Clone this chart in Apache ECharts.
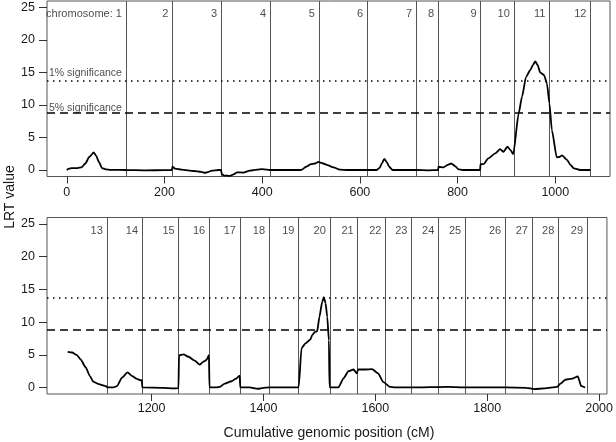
<!DOCTYPE html>
<html>
<head>
<meta charset="utf-8">
<script src="https://cdn.jsdelivr.net/npm/echarts@6/dist/echarts.min.js"></script>
<style>
html,body{margin:0;padding:0;background:#fff;}
#chart{width:616px;height:442px;}
</style>
</head>
<body>
<div id="chart"></div>
<script>
// ---- data ----
const xTicksTop = [0, 200, 400, 600, 800, 1000];
const xTicksBottom = [1200, 1400, 1600, 1800, 2000];
const yTicks = [0, 5, 10, 15, 20, 25];
const sigLevels = [13.8, 8.8];               // 1% and 5% significance thresholds
const sigNames = ['1% significance', '5% significance'];

const chromEndsTop = [121, 216, 316, 416, 516, 615, 715, 760, 847, 915, 988, 1072];
const chromNamesTop = ['chromosome: 1', '2', '3', '4', '5', '6', '7', '8', '9', '10', '11', '12'];
const chromEndsBottom = [1120, 1183, 1248.5, 1303, 1358, 1410, 1462.5, 1518.5, 1568.5, 1618, 1664.5, 1712.5, 1760.5, 1832, 1880, 1927, 1978.5];
const chromNamesBottom = ['13', '14', '15', '16', '17', '18', '19', '20', '21', '22', '23', '24', '25', '26', '27', '28', '29'];

const lrtTop = [
  [0,0],[5,0.2],[10,0.3],[22,0.3],[30,0.4],[38,1.0],[46,2.0],[55,2.7],[60,2.2],[66,1.2],[72,0.3],[80,0.1],[90,0.03],[121,0],
  [160,-0.05],[200,-0.02],[215,0],
  [216.5,0.5],[222,0.2],[235,0.05],[260,-0.15],[275,-0.3],[283,-0.45],[290,-0.3],[297,-0.1],[311,0],[316,0],
  [317,-0.6],[322,-0.85],[334,-0.9],[340,-0.7],[349,-0.35],[361,-0.4],[375,-0.1],[390,0.05],[399,0.15],[410,0.05],[416,0],
  [480,0],[490,0.5],[500,0.9],[508,1.0],[515,1.25],
  [516,1.2],[525,1.0],[532,0.8],[546,0.4],[559,0.05],[575,0],[614,0],
  [634,0],[640,0.3],[645,1.0],[650,1.7],[655,1.2],[660,0.5],[667,0],[715,0],
  [740,-0.05],[760,0],
  [761,0.5],[771,0.4],[780,0.8],[787,1.0],[795,0.6],[802,0.1],[810,0],[846,0],
  [847,0.9],[853,0.9],[863,1.8],[877,2.55],[887,3.2],[894,2.8],[902,3.6],[908,3.1],[914,2.45],
  [925,8.7],[932,11.3],[940,14.3],[949,15.4],[954,16.15],[959,16.7],[964,16.15],[969,15.0],[977,14.6],[983,13.3],[988,10.25],
  [993,6.15],[1003,1.95],[1008,2.0],[1014,2.25],[1024,1.55],[1031,0.8],[1038,0.25],[1051,0],[1072,0]
];

const lrtBottom = [
  [1050,5.45],[1058,5.35],[1066,5.0],[1073,4.3],[1082,3.1],[1090,1.7],[1096,0.85],[1106,0.5],[1114,0.3],[1119.5,0.15],
  [1120.5,0],[1132,0],[1138,0.2],[1147,1.5],[1157,2.3],[1165,1.75],[1174,1.3],[1180,1.1],[1182.5,1.1],
  [1183.5,0],[1220,-0.05],[1239,-0.15],[1248,-0.1],
  [1249,4.9],[1257,5.05],[1266,4.7],[1277,4.1],[1286,3.5],[1292,3.9],[1298,4.2],[1302.5,4.95],
  [1303.5,0],[1315,0],[1322,0.1],[1331,0.6],[1343,0.95],[1350,1.3],[1357.5,1.8],
  [1358.5,0],[1375,0],[1390,-0.2],[1400,-0.05],[1410,0],[1462,0],
  [1463,0.1],[1468,6.0],[1475,6.75],[1484,7.35],[1487,8.0],[1492,8.5],[1496,8.6],[1500,10.8],[1505,13.1],[1508,13.8],[1511,12.9],[1514,10.8],[1517,7.2],[1518,0.1],
  [1519,0],[1534,0],[1543,1.4],[1552,2.5],[1561,2.75],[1567,2.15],
  [1569,2.75],[1582,2.75],[1594,2.8],[1605,2.15],[1614,0.85],[1626,0.1],[1635,0],
  [1665,0],[1730,0.1],[1760,0],[1832,0],[1870,-0.05],[1884,-0.25],[1902,-0.15],[1925,0.1],
  [1931,0.6],[1940,1.2],[1952,1.35],[1962,1.7],[1968,0.2],[1975,0]
];

// ---- chart ----
const FONT = 'Liberation Sans, Arial, Helvetica, sans-serif';
const TXT = '#1a1a1a';
const chart = echarts.init(document.getElementById('chart'), null, {renderer: 'canvas'});
const plain = v => String(v);

function xAxisCfg(grid, min, max, ticks, margin) {
  return {
    gridIndex: grid, type: 'value', min: min, max: max,
    axisLine: {show: false, onZero: false}, splitLine: {show: false},
    axisTick: {show: true, customValues: ticks, length: 7, lineStyle: {color: '#333', width: 1}},
    axisLabel: {show: true, customValues: ticks, formatter: plain, fontSize: 12.5, color: TXT, margin: margin, fontFamily: FONT}
  };
}
function yAxisCfg(grid) {
  return {
    gridIndex: grid, type: 'value', min: -1, max: 26,
    axisLine: {show: false, onZero: false}, splitLine: {show: false},
    axisTick: {show: true, customValues: yTicks, length: 8, lineStyle: {color: '#333', width: 1}},
    axisLabel: {show: true, customValues: yTicks, formatter: plain, fontSize: 12.5, color: TXT, margin: 12, fontFamily: FONT}
  };
}
function markLines(ends) {
  const d = ends.map(v => ({xAxis: v, lineStyle: {color: '#555', width: 1, type: 'solid'}}));
  d.push({yAxis: sigLevels[0], lineStyle: {color: '#000', width: 1.5, type: [1.5, 4.5]}});
  d.push({yAxis: sigLevels[1], lineStyle: {color: '#000', width: 1.5, type: [8, 5]}});
  return {symbol: ['none', 'none'], silent: true, animation: false, label: {show: false}, emphasis: {disabled: true}, data: d};
}
function curve(idx, data, ends) {
  return {
    type: 'line', xAxisIndex: idx, yAxisIndex: idx, data: data, symbol: 'none',
    smooth: 0.2, smoothMonotone: 'x', z: 5,
    lineStyle: {color: '#000', width: 1.8}, animation: false,
    markLine: markLines(ends)
  };
}
function chromLabels(idx, ends, names) {
  return {
    type: 'scatter', xAxisIndex: idx, yAxisIndex: idx, symbolSize: 0, silent: true, animation: false,
    data: ends.map((v, i) => ({value: [v, 24], name: names[i]})),
    label: {show: true, position: 'left', distance: 4, formatter: '{b}', fontSize: 11, color: TXT, fontFamily: FONT}
  };
}

const option = {
  backgroundColor: '#fff',
  animation: false,
  grid: [
    {left: 47, top: 1, width: 563, height: 175.5, show: true, borderColor: '#555', borderWidth: 1, backgroundColor: 'transparent'},
    {left: 47, top: 217.5, width: 563, height: 176.5, show: true, borderColor: '#555', borderWidth: 1, backgroundColor: 'transparent'}
  ],
  xAxis: [xAxisCfg(0, -40.5, 1112, xTicksTop, 10), xAxisCfg(1, 1013, 2014, xTicksBottom, 8.5)],
  yAxis: [yAxisCfg(0), yAxisCfg(1)],
  series: [
    curve(0, lrtTop, chromEndsTop),
    curve(1, lrtBottom, chromEndsBottom),
    chromLabels(0, chromEndsTop, chromNamesTop),
    chromLabels(1, chromEndsBottom, chromNamesBottom),
    {
      type: 'scatter', xAxisIndex: 0, yAxisIndex: 0, symbolSize: 0, silent: true, animation: false,
      data: [{value: [-36.5, sigLevels[0] + 1.1], name: sigNames[0]}, {value: [-36.5, sigLevels[1] + 0.7], name: sigNames[1]}],
      label: {show: true, position: 'right', distance: 0, formatter: '{b}', fontSize: 10.5, color: TXT, fontFamily: FONT}
    }
  ],
  graphic: [
    {type: 'text', x: 10, y: 197, rotation: Math.PI / 2, style: {text: 'LRT value', font: '14px ' + FONT, fill: TXT, align: 'center', verticalAlign: 'middle'}},
    {type: 'text', x: 329, y: 433, style: {text: 'Cumulative genomic position (cM)', font: '14px ' + FONT, fill: TXT, align: 'center', verticalAlign: 'middle'}}
  ]
};
chart.setOption(option);
</script>
</body>
</html>
